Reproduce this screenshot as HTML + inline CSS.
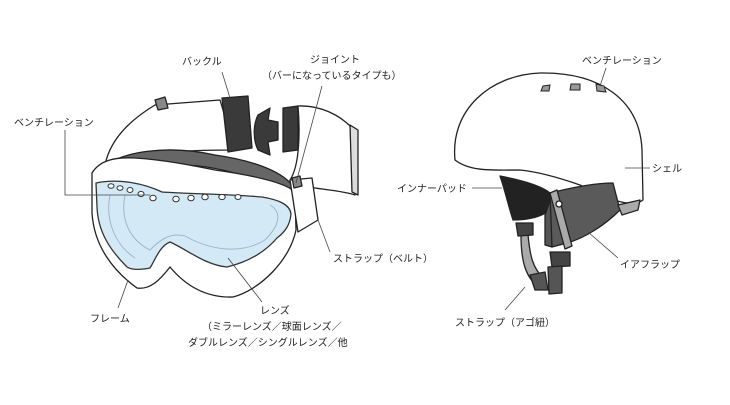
<!DOCTYPE html>
<html><head><meta charset="utf-8"><style>
html,body{margin:0;padding:0;background:#fff;}
body{width:730px;height:400px;overflow:hidden;}
svg text{font-family:"Liberation Sans","Noto Sans CJK JP",sans-serif;font-size:10px;fill:#222;}
</style></head><body>
<svg width="730" height="400" viewBox="0 0 730 400" xmlns="http://www.w3.org/2000/svg">
<g stroke="#222" stroke-width="1.3" stroke-linejoin="round">
<path d="M105,165 C110,140 130,120 155,105 L220,100 L235,150 C200,150 160,150 130,162 Z" fill="#fff"/>
<path d="M155,100 L165,97 L168,108 L158,110 Z" fill="#888"/>
<path d="M222,98 L248,96 L252,148 L228,152 Z" fill="#3a3a3a"/>
<path d="M258,115 L270,108 L268,120 L278,122 L278,140 L268,142 L270,155 L258,150 C253,140 253,125 258,115 Z" fill="#3a3a3a"/>
<path d="M283,108 L298,106 L298,150 L283,152 Z" fill="#3a3a3a"/>
<path d="M298,106 C320,105 340,115 352,128 L355,195 C340,190 320,190 300,185 L290,180 C300,165 300,130 298,106 Z" fill="#fff"/>
<path d="M350,125 L358,130 L358,195 L352,192 Z" fill="#ddd"/>
<path d="M100,170 C120,150 170,145 215,155 C250,160 280,170 292,185 L290,195 C260,180 220,165 180,165 C140,165 115,170 100,172 Z" fill="#666"/>
<path d="M92,173 C100,160 115,157 135,158 C165,160 190,165 215,170 C250,175 285,182 295,192 L296,230 C290,260 260,290 233,297 C205,298 185,285 170,267 C160,280 150,290 137,288 C112,270 94,245 92,213 Z" fill="#fff"/>
<path d="M290,180 L312,178 L318,220 L298,232 Z" fill="#fff"/>
<path d="M292,178 L300,176 L302,186 L294,188 Z" fill="#888"/>
<path d="M96,183 C120,178 145,184 162,192 C190,194 230,194 262,197 C280,200 290,205 291,214 C290,225 285,232 277,238 C265,252 248,262 227,267 C205,265 188,250 170,242 C160,246 156,258 150,268 C140,270 132,270 127,267 C110,250 98,232 97,207 Z" fill="#d3e9f6" stroke="#333"/>
</g>
<g fill="none" stroke="#9fb7c6" stroke-width="1">
<path d="M110,195 C105,220 115,245 135,258"/>
<path d="M125,195 C120,220 130,240 150,250 C160,240 170,232 185,236 C210,250 240,255 265,240 C280,225 282,212 270,205"/>
</g>
<g fill="#fff" stroke="#333" stroke-width="1">
<ellipse cx="111" cy="186" rx="3" ry="2.3"/><ellipse cx="120" cy="188" rx="3" ry="2.3"/><ellipse cx="130" cy="190" rx="3" ry="2.5"/>
<ellipse cx="141" cy="194" rx="3" ry="2.6"/><ellipse cx="153" cy="198" rx="3.2" ry="2.8"/><ellipse cx="176" cy="199" rx="3.2" ry="2.8"/>
<ellipse cx="191" cy="198" rx="3.2" ry="2.8"/><ellipse cx="205" cy="197" rx="3.2" ry="2.8"/><ellipse cx="222" cy="197" rx="3.2" ry="2.6"/>
<ellipse cx="238" cy="197" rx="3" ry="2.5"/>
</g>
<!-- helmet -->
<g stroke="#222" stroke-width="1.3" stroke-linejoin="round">
<path d="M455,160 C450,110 490,75 540,73 C600,72 640,100 642,150 L643,200 C630,210 600,195 580,185 C560,178 540,172 520,170 C495,170 470,172 455,160 Z" fill="#fff"/>
<path d="M500,176 C520,180 540,185 550,193 L550,210 C540,218 525,220 513,220 C508,205 505,190 500,176 Z" fill="#222"/>
<path d="M545,215 L552,195 L552,247 L545,245 Z" fill="#555"/>
<path d="M550,193 C570,188 595,183 613,183 L620,210 C605,225 585,238 567,243 L552,247 Z" fill="#5a5a5a"/>
<path d="M618,205 L640,200 L638,210 L622,215 Z" fill="#aaa"/>
<path d="M550,193 L557,190 L572,246 L565,249 Z" fill="#aaa"/>
<path d="M521,235 L528,235 C530,255 532,268 545,280 L540,288 C525,278 521,260 521,235 Z" fill="#aaa"/>
<path d="M516,223 L533,223 L533,235 L518,236 Z" fill="#444"/>
<path d="M530,275 L545,272 L548,290 L535,290 Z" fill="#555"/>
<path d="M550,252 L570,252 L570,266 L552,267 Z" fill="#444"/>
<path d="M548,267 L562,266 L562,293 L549,294 Z" fill="#555"/>
<circle cx="559" cy="204" r="3" fill="#fff"/>
</g>
<g fill="#999" stroke="#222" stroke-width="1">
<path d="M543,86 L550,85 L549,91 L541,91 Z"/><path d="M571,84 L580,84 L580,90 L570,90 Z"/><path d="M596,84 L604,86 L606,92 L597,91 Z"/>
</g>
<g stroke="#444" stroke-width="0.8" fill="none">
<path d="M222,72 L230,98"/>
<path d="M322,86 L296,183"/>
<path d="M65,130 L65,195 L150,195"/>
<path d="M330,252 L318,220"/>
<path d="M118,308 L128,280"/>
<path d="M262,302 L228,258"/>
<path d="M606,68 L600,86"/>
<path d="M625,168 L650,168"/>
<path d="M472,188 L502,188"/>
<path d="M618,258 L588,232"/>
<path d="M505,310 L525,287"/>
</g>
<text x="182" y="65">バックル</text>
<text x="310" y="63">ジョイント</text>
<text x="262" y="79">（バーになっているタイプも）</text>
<text x="14" y="126">ベンチレーション</text>
<text x="333" y="262">ストラップ（ベルト）</text>
<text x="90" y="322">フレーム</text>
<text x="260" y="314">レンズ</text>
<text x="202" y="330">（ミラーレンズ／球面レンズ／</text>
<text x="188" y="346">ダブルレンズ／シングルレンズ／他</text>
<text x="582" y="64">ベンチレーション</text>
<text x="652" y="172">シェル</text>
<text x="397" y="192">インナーパッド</text>
<text x="620" y="268">イアフラップ</text>
<text x="455" y="326">ストラップ（アゴ紐）</text>
</svg>
</body></html>
